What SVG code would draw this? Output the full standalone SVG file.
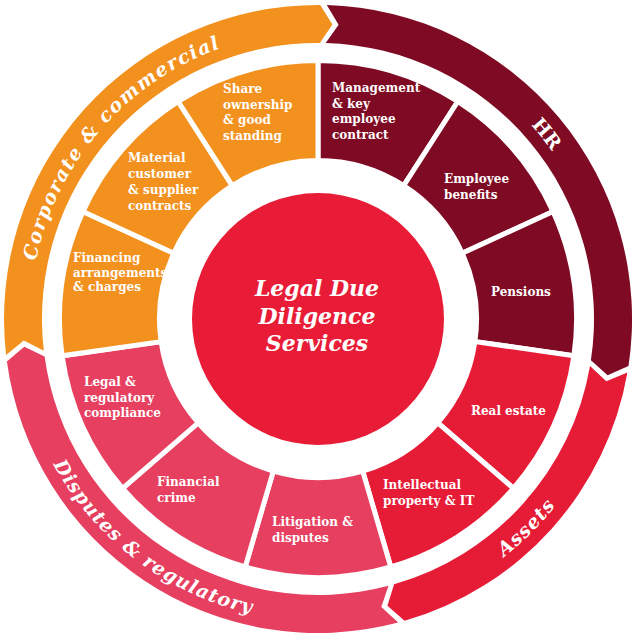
<svg xmlns="http://www.w3.org/2000/svg" xmlns:xlink="http://www.w3.org/1999/xlink" width="640" height="640" viewBox="0 0 640 640">
<defs>
<style>
.seg{stroke:#ffffff;stroke-width:5;stroke-linejoin:miter}
.corp{fill:#F3911F}
.hr{fill:#7E0B23}
.assets{fill:#E61C37}
.disp{fill:#E63F60}
.lbl{font-family:"DejaVu Serif","Liberation Serif",serif;font-weight:bold;font-size:12px;fill:#ffffff}
.ring{font-family:"DejaVu Serif","Liberation Serif",serif;font-weight:bold;font-style:italic;font-size:19px;fill:#ffffff}
.title{font-family:"DejaVu Serif","Liberation Serif",serif;font-weight:bold;font-style:italic;font-size:22px;fill:#ffffff;text-anchor:middle}
</style>
<path id="arcCorp" d="M 31.1 344.1 A 288 288 0 0 1 302.9 31.4"/>
<path id="arcHR" d="M 348.1 32.6 A 288 288 0 0 1 604.4 349.1"/>
<path id="arcAssets" d="M 421.3 602.8 A 302 302 0 0 0 601.8 422.3"/>
<path id="arcDisp" d="M 25 392.1 A 302 302 0 0 0 328.5 620.8"/>
</defs>
<rect width="640" height="640" fill="#ffffff"/>

<g id="ring-corporate-commercial">
<path class="corp" d="M 6.1 355.1 A 314 314 0 0 1 320.2 5.0 L 332.4 24.4 L 319.9 43.0 A 276 276 0 0 0 43.8 350.7 L 23.8 340.6 Z"/>
<text class="ring" letter-spacing="1.5"><textPath xlink:href="#arcCorp" href="#arcCorp" startOffset="50%" text-anchor="middle">Corporate &amp; commercial</textPath></text>
</g>
<g id="ring-hr">
<path class="hr" d="M 326.8 5.1 A 314 314 0 0 1 628.5 366.0 L 607.6 375.3 L 590.9 360.3 A 276 276 0 0 0 325.7 43.1 L 338.6 24.7 Z"/>
<text class="ring" font-style="normal" style="font-style:normal"><textPath xlink:href="#arcHR" href="#arcHR" startOffset="50%" text-anchor="middle">HR</textPath></text>
</g>
<g id="ring-assets">
<path class="assets" d="M 627.4 372.4 A 314 314 0 0 1 404.6 620.8 L 387.4 605.7 L 394.1 584.3 A 276 276 0 0 0 590.0 366.0 L 606.3 381.3 Z"/>
<text class="ring" letter-spacing="1"><textPath xlink:href="#arcAssets" href="#arcAssets" startOffset="50%" text-anchor="middle">Assets</textPath></text>
</g>
<g id="ring-disputes-regulatory">
<path class="disp" d="M 398.2 622.6 A 314 314 0 0 1 6.9 361.6 L 24.3 346.8 L 44.6 356.5 A 276 276 0 0 0 388.5 585.8 L 381.3 607.1 Z"/>
<text class="ring" letter-spacing="1"><textPath xlink:href="#arcDisp" href="#arcDisp" startOffset="50%" text-anchor="middle">Disputes &amp; regulatory</textPath></text>
</g>

<g id="seg-management">
<path class="seg hr" d="M 318 60.5 A 258.5 258.5 0 0 1 457.8 101.5 L 403.7 185.7 A 158.5 158.5 0 0 0 318 160.5 Z"/>
<text class="lbl" x="332" y="92"><tspan x="332">Management</tspan><tspan x="332" dy="15.7">&amp; key</tspan><tspan x="332" dy="15.7">employee</tspan><tspan x="332" dy="15.7">contract</tspan></text>
</g>
<g id="seg-employee-benefits">
<path class="seg hr" d="M 457.8 101.5 A 258.5 258.5 0 0 1 553.1 211.6 L 462.2 253.2 A 158.5 158.5 0 0 0 403.7 185.7 Z"/>
<text class="lbl" x="444" y="183"><tspan x="444">Employee</tspan><tspan x="444" dy="15.7">benefits</tspan></text>
</g>
<g id="seg-pensions">
<path class="seg hr" d="M 553.1 211.6 A 258.5 258.5 0 0 1 573.9 355.8 L 474.9 341.6 A 158.5 158.5 0 0 0 462.2 253.2 Z"/>
<text class="lbl" x="491" y="296">Pensions</text>
</g>
<g id="seg-real-estate">
<path class="seg assets" d="M 573.9 355.8 A 258.5 258.5 0 0 1 513.4 488.3 L 437.8 422.8 A 158.5 158.5 0 0 0 474.9 341.6 Z"/>
<text class="lbl" x="471" y="415">Real estate</text>
</g>
<g id="seg-ip-it">
<path class="seg assets" d="M 513.4 488.3 A 258.5 258.5 0 0 1 390.8 567.0 L 362.7 471.1 A 158.5 158.5 0 0 0 437.8 422.8 Z"/>
<text class="lbl" x="383" y="489"><tspan x="383">Intellectual</tspan><tspan x="383" dy="15.7">property &amp; IT</tspan></text>
</g>
<g id="seg-litigation">
<path class="seg disp" d="M 390.8 567.0 A 258.5 258.5 0 0 1 245.2 567.0 L 273.3 471.1 A 158.5 158.5 0 0 0 362.7 471.1 Z"/>
<text class="lbl" x="272" y="526"><tspan x="272">Litigation &amp;</tspan><tspan x="272" dy="15.7">disputes</tspan></text>
</g>
<g id="seg-financial-crime">
<path class="seg disp" d="M 245.2 567.0 A 258.5 258.5 0 0 1 122.6 488.3 L 198.2 422.8 A 158.5 158.5 0 0 0 273.3 471.1 Z"/>
<text class="lbl" x="157" y="486"><tspan x="157">Financial</tspan><tspan x="157" dy="15.7">crime</tspan></text>
</g>
<g id="seg-legal-compliance">
<path class="seg disp" d="M 122.6 488.3 A 258.5 258.5 0 0 1 62.1 355.8 L 161.1 341.6 A 158.5 158.5 0 0 0 198.2 422.8 Z"/>
<text class="lbl" x="84" y="386"><tspan x="84">Legal &amp;</tspan><tspan x="84" dy="15.7">regulatory</tspan><tspan x="84" dy="15.7">compliance</tspan></text>
</g>
<g id="seg-financing">
<path class="seg corp" d="M 62.1 355.8 A 258.5 258.5 0 0 1 82.9 211.6 L 173.8 253.2 A 158.5 158.5 0 0 0 161.1 341.6 Z"/>
<text class="lbl" x="73" y="262"><tspan x="73">Financing</tspan><tspan x="73" dy="14.7">arrangements</tspan><tspan x="73" dy="14.7">&amp; charges</tspan></text>
</g>
<g id="seg-material-contracts">
<path class="seg corp" d="M 82.9 211.6 A 258.5 258.5 0 0 1 178.2 101.5 L 232.3 185.7 A 158.5 158.5 0 0 0 173.8 253.2 Z"/>
<text class="lbl" x="128" y="162"><tspan x="128">Material</tspan><tspan x="128" dy="16">customer</tspan><tspan x="128" dy="16">&amp; supplier</tspan><tspan x="128" dy="16">contracts</tspan></text>
</g>
<g id="seg-share-ownership">
<path class="seg corp" d="M 178.2 101.5 A 258.5 258.5 0 0 1 318 60.5 L 318 160.5 A 158.5 158.5 0 0 0 232.3 185.7 Z"/>
<text class="lbl" x="223" y="93"><tspan x="223">Share</tspan><tspan x="223" dy="15.7">ownership</tspan><tspan x="223" dy="15.7">&amp; good</tspan><tspan x="223" dy="15.7">standing</tspan></text>
</g>

<g id="center">
<circle cx="318" cy="319" r="126" fill="#E81C36"/>
<text class="title" x="317" y="296"><tspan x="317">Legal Due</tspan><tspan x="317" dy="27.5">Diligence</tspan><tspan x="317" dy="27.5">Services</tspan></text>
</g>

<g id="connectors"/>
</svg>
